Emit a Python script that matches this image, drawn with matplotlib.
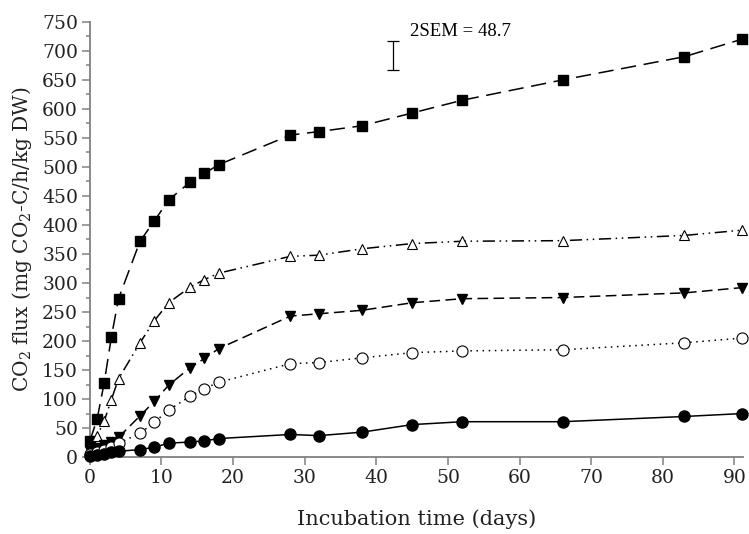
import matplotlib
matplotlib.use('Agg')
import matplotlib.pyplot as plt

plt.rcParams['mathtext.fontset'] = 'dejavuserif'

# incubation days
days = [0, 1, 2, 3, 4, 7, 9, 11, 14, 16, 18, 28, 32, 38, 45, 52, 66, 83, 91]

# CO2 flux series
squares = [28, 65, 128, 207, 273, 372, 407, 443, 474, 489, 504,
           555, 561, 571, 593, 615, 650, 690, 720]
tri_up = [12, 37, 62, 99, 135, 197, 235, 266, 293, 306, 317,
          346, 348, 359, 368, 372, 373, 382, 391]
tri_down = [10, 15, 20, 26, 34, 71, 96, 124, 154, 170, 187,
            243, 247, 253, 266, 273, 275, 283, 292]
open_circ = [5, 8, 12, 18, 24, 41, 60, 81, 105, 118, 129,
             161, 163, 171, 180, 183, 185, 197, 205]
filled_circ = [2, 4, 6, 8, 10, 13, 17, 24, 26, 28, 32,
               39, 37, 43, 56, 61, 61, 70, 75]

sem2 = 48.7
sem_x = 42.3
sem_mid = 692

fig = plt.figure(figsize=(7.49, 5.34), dpi=100)
ax = fig.add_axes([0.120, 0.144, 0.872, 0.815])

kw = dict(color='black', lw=1.1, clip_on=False, zorder=3)
ax.plot(days, squares, marker='s', ms=7.5, mfc='black', dashes=(10, 5), **kw)
ax.plot(days, tri_up, marker='^', ms=7.5, mfc='white', mew=0.8,
        dashes=(8, 3, 1, 3, 1, 3), **kw)
ax.plot(days, tri_down, marker='v', ms=7.5, mfc='black', dashes=(7, 3.5), **kw)
ax.plot(days, open_circ, marker='o', ms=8, mfc='white', mew=0.8,
        dashes=(1, 3), **kw)
ax.plot(days, filled_circ, marker='o', ms=8, mfc='black', ls='-', **kw)

# 2SEM bar
ax.errorbar([sem_x], [sem_mid], yerr=sem2 / 2, fmt='none', ecolor='black',
            elinewidth=0.9, capsize=4, capthick=0.9)
ax.text(sem_x + 2.4, 733, '2SEM = 48.7', fontsize=13.5,
        family='Liberation Serif', va='center', ha='left')

ax.set_xlim(0, 91.2)
ax.set_ylim(0, 750)
ax.set_xticks(range(0, 91, 10))
ax.set_yticks(range(0, 751, 50))
ax.set_yticks(range(25, 751, 50), minor=True)

for s in ['top', 'right']:
    ax.spines[s].set_visible(False)
for s in ['left', 'bottom']:
    ax.spines[s].set_color('#808080')
    ax.spines[s].set_linewidth(1.3)

ax.tick_params(which='both', direction='out', color='#808080', width=1.1)
ax.tick_params(which='major', length=5.5, pad=3, labelsize=13.5)
ax.tick_params(which='minor', length=3)
for lab in ax.get_xticklabels() + ax.get_yticklabels():
    lab.set_family('DejaVu Serif')
    lab.set_color('#222222')

ax.set_xlabel('Incubation time (days)', family='DejaVu Serif', fontsize=15,
              color='#222222', labelpad=16)
ax.set_ylabel('CO$_2$ flux (mg CO$_2$-C/h/kg DW)', family='DejaVu Serif',
              fontsize=14.5, color='#222222', labelpad=6)

fig.savefig('out.png', dpi=100)
